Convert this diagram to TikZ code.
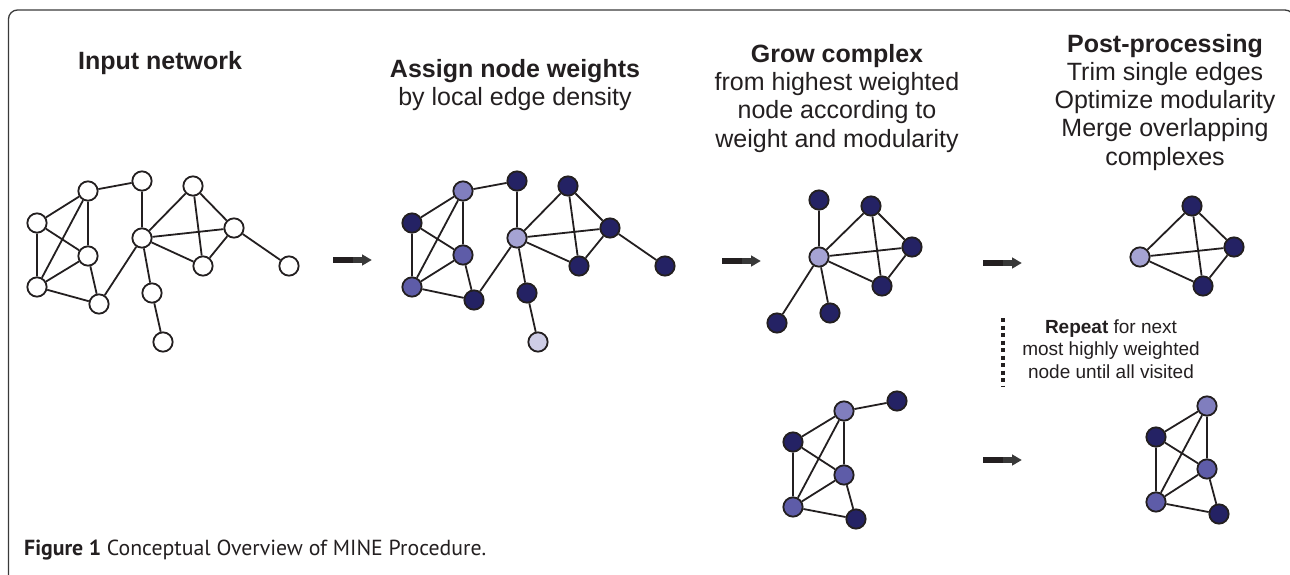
\documentclass[tikz,border=0pt]{standalone}
\usepackage{fontspec}
\setmainfont{Liberation Sans}
\newfontfamily\capfont{PT Sans}
\definecolor{ink}{HTML}{231F20}
\definecolor{navy}{RGB}{36,34,100}
\definecolor{lavB}{RGB}{128,126,190}
\definecolor{lavE}{RGB}{94,92,168}
\definecolor{lavF}{RGB}{165,163,211}
\definecolor{lavM}{RGB}{206,205,230}
\definecolor{framec}{HTML}{3A3A3A}
\tikzset{
  nd/.style={circle, draw=ink, line width=1.8pt, minimum size=19.3pt, inner sep=0pt, fill=white},
  dk/.style={nd, fill=navy},
  lb/.style={nd, fill=lavB},
  le/.style={nd, fill=lavE},
  lf/.style={nd, fill=lavF},
  lm/.style={nd, fill=lavM},
  ed/.style={draw=ink, line width=1.8pt},
  hd/.style={font=\fontsize{25}{28}\selectfont\bfseries, text=ink, inner sep=0pt, anchor=base},
  sb/.style={font=\fontsize{25}{28}\selectfont, text=ink, inner sep=0pt, anchor=base},
  rp/.style={font=\fontsize{19}{22}\selectfont, text=ink, inner sep=0pt, anchor=base},
  fatarrow/.pic={
    \fill[ink] (0,-3.3) rectangle (20,3.3);
    \fill[black!78] (20.7,-3.3) rectangle (30,3.3);
    \fill[black!78] (29.5,-5.6) -- (39,0) -- (29.5,5.6) -- cycle;
  }
}
\begin{document}
\begin{tikzpicture}[x=1pt,y=-1pt]
\useasboundingbox (0,0) rectangle (1290,575);
\draw[framec, line width=1.3pt, rounded corners=9pt] (8.5,10) rectangle (1294,584);

% ---------- headings ----------
\node[hd] (h1) at (160,70) {Input network};
\node[hd] (h2a) at (515,78) {Assign node weights};
\node[sb] (h2b) at (515,106) {by local edge density};
\node[hd] (h3a) at (837,63) {Grow complex};
\node[sb] (h3b) at (837,91) {from highest weighted};
\node[sb] (h3c) at (837,119) {node according to};
\node[sb] (h3d) at (837,147) {weight and modularity};
\node[hd] (h4a) at (1165,53) {Post-processing};
\node[sb] (h4b) at (1165,81) {Trim single edges};
\node[sb] (h4c) at (1165,109) {Optimize modularity};
\node[sb] (h4d) at (1165,137) {Merge overlapping};
\node[sb] (h4e) at (1165,165) {complexes};

% ---------- input network ----------
\node[nd] (nA) at (37,223) {};
\node[nd] (nB) at (88,191) {};
\node[nd] (nC) at (142,181) {};
\node[nd] (nD) at (193,186) {};
\node[nd] (nE) at (88,256) {};
\node[nd] (nF) at (142,238) {};
\node[nd] (nG) at (234,228) {};
\node[nd] (nH) at (37,287) {};
\node[nd] (nI) at (99,304) {};
\node[nd] (nJ) at (152,293) {};
\node[nd] (nK) at (203,266) {};
\node[nd] (nL) at (289,266) {};
\node[nd] (nM) at (163,342) {};
\draw[ed] (nA)--(nB) (nA)--(nE) (nA)--(nH) (nB)--(nH) (nB)--(nE) (nB)--(nC)
  (nE)--(nH) (nE)--(nI) (nH)--(nI) (nC)--(nF) (nI)--(nF) (nF)--(nD) (nF)--(nG)
  (nF)--(nK) (nF)--(nJ) (nD)--(nG) (nD)--(nK) (nG)--(nK) (nG)--(nL) (nJ)--(nM);

% ---------- weighted network ----------
\node[dk] (wA) at (412,223) {};
\node[lb] (wB) at (463,191) {};
\node[dk] (wC) at (517,181) {};
\node[dk] (wD) at (568,186) {};
\node[le] (wE) at (463,255) {};
\node[lf] (wF) at (517,238) {};
\node[dk] (wG) at (610,228) {};
\node[le] (wH) at (412,287) {};
\node[dk] (wI) at (474,300) {};
\node[dk] (wJ) at (527,293) {};
\node[dk] (wK) at (579,266) {};
\node[dk] (wL) at (665,266) {};
\node[lm] (wM) at (538,342) {};
\draw[ed] (wA)--(wB) (wA)--(wE) (wA)--(wH) (wB)--(wH) (wB)--(wE) (wB)--(wC)
  (wE)--(wH) (wE)--(wI) (wH)--(wI) (wC)--(wF) (wI)--(wF) (wF)--(wD) (wF)--(wG)
  (wF)--(wK) (wF)--(wJ) (wD)--(wG) (wD)--(wK) (wG)--(wK) (wG)--(wL) (wJ)--(wM);

% ---------- grown complex ----------
\node[lf] (gC) at (819,257) {};
\node[dk] (gT) at (819,200) {};
\node[dk] (gTR) at (871,206) {};
\node[dk] (gR) at (912,247) {};
\node[dk] (gBR) at (882,286) {};
\node[dk] (gBL) at (777,323) {};
\node[dk] (gBM) at (830,313) {};
\draw[ed] (gC)--(gT) (gC)--(gTR) (gC)--(gR) (gC)--(gBR) (gC)--(gBL) (gC)--(gBM)
  (gTR)--(gR) (gTR)--(gBR) (gR)--(gBR);

% ---------- post-processed (top) ----------
\node[lf] (pL) at (1140,257) {};
\node[dk] (pT) at (1192,206) {};
\node[dk] (pR) at (1234,247) {};
\node[dk] (pB) at (1203,286) {};
\draw[ed] (pL)--(pT) (pL)--(pR) (pL)--(pB) (pT)--(pR) (pT)--(pB) (pR)--(pB);

% ---------- second complex (bottom left) ----------
\node[dk] (qA) at (793,442) {};
\node[lb] (qB) at (844,411) {};
\node[dk] (qC) at (897,401) {};
\node[le] (qE) at (844,475) {};
\node[le] (qH) at (793,507) {};
\node[dk] (qI) at (856,519) {};
\draw[ed] (qA)--(qB) (qA)--(qE) (qA)--(qH) (qB)--(qH) (qB)--(qE) (qB)--(qC)
  (qE)--(qH) (qE)--(qI) (qH)--(qI);

% ---------- second complex processed (bottom right) ----------
\node[dk] (rA) at (1156,437) {};
\node[lb] (rB) at (1207,406) {};
\node[le] (rE) at (1207,469) {};
\node[le] (rH) at (1156,502) {};
\node[dk] (rI) at (1219,514) {};
\draw[ed] (rA)--(rB) (rA)--(rE) (rA)--(rH) (rB)--(rH) (rB)--(rE)
  (rE)--(rH) (rE)--(rI) (rH)--(rI);

% ---------- arrows ----------
\coordinate (ar1) at (332.7,260);
\coordinate (ar2) at (721.7,261);
\coordinate (ar3) at (982.7,263);
\coordinate (ar4) at (982.7,460);
\pic at (ar1) {fatarrow};
\pic at (ar2) {fatarrow};
\pic at (ar3) {fatarrow};
\pic at (ar4) {fatarrow};

% ---------- repeat note ----------
\coordinate (dtop) at (1003,318);
\coordinate (dbot) at (1003,387);
\draw[ink, line width=4pt, dash pattern=on 4pt off 3.5pt] (dtop)--(dbot);
\node[rp] (r1) at (1111,333) {\textbf{Repeat} for next};
\node[rp] (r2) at (1111,355.5) {most highly weighted};
\node[rp] (r3) at (1111,378) {node until all visited};

% ---------- caption ----------
\node[anchor=base west, inner sep=0pt, text=ink] (cap) at (24,555)
  {\resizebox{462pt}{!}{\capfont\textbf{Figure 1} Conceptual Overview of MINE Procedure.}};
\end{tikzpicture}
\end{document}
